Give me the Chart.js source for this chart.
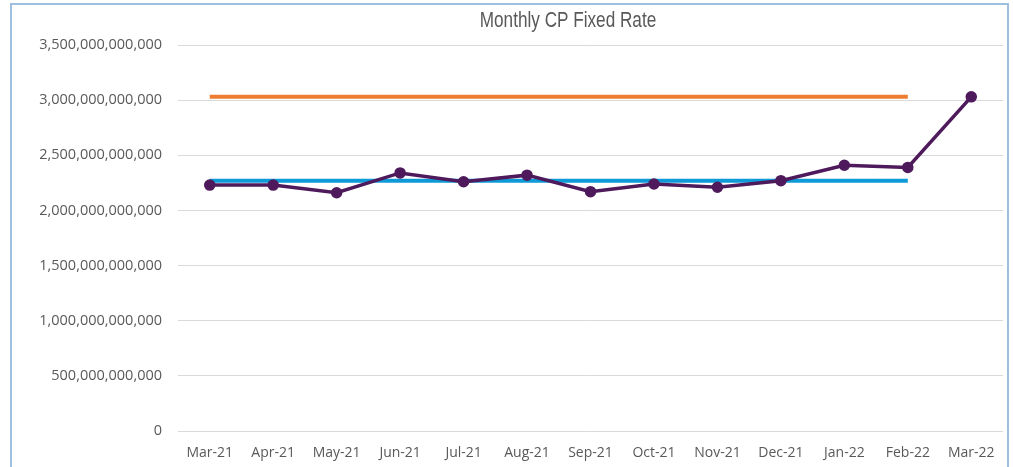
<!DOCTYPE html>
<html>
<head>
<meta charset="utf-8">
<script src="https://cdn.jsdelivr.net/npm/chart.js@4"></script>
<style>
    body { margin: 0; width: 1013px; height: 467px; overflow: hidden; background: #fff; }
    #wrap { position: absolute; left: 0; top: 0; width: 1013px; height: 467px; }
    #frame {
        position: absolute; left: 10px; top: 3px; width: 995px; height: 480px;
        border: 2px solid #9DBFE0; pointer-events: none;
    }
</style>
</head>
<body>
<div id="wrap"><canvas id="cpChart" width="1013" height="467"></canvas></div>
<div id="frame"></div>
<script>
const months = ["Mar-21", "Apr-21", "May-21", "Jun-21", "Jul-21", "Aug-21", "Sep-21",
    "Oct-21", "Nov-21", "Dec-21", "Jan-22", "Feb-22", "Mar-22"];

const monthlyTotal = [2230e9, 2230e9, 2160e9, 2340e9, 2260e9, 2320e9, 2170e9,
    2240e9, 2210e9, 2270e9, 2410e9, 2390e9, 3030e9];

const upperLine = [3030e9, 3030e9, 3030e9, 3030e9, 3030e9, 3030e9, 3030e9,
    3030e9, 3030e9, 3030e9, 3030e9, 3030e9, null];

const averageLine = [2270e9, 2270e9, 2270e9, 2270e9, 2270e9, 2270e9, 2270e9,
    2270e9, 2270e9, 2270e9, 2270e9, 2270e9, null];

const yMax = 3500e9;
const yStep = 500e9;

// title drawn off-centre and squeezed like the original narrow font
const titlePlugin = {
    id: "cpTitle",
    afterDraw(chart) {
        const ctx = chart.ctx;
        ctx.save();
        ctx.translate(568, 21);
        ctx.scale(0.78, 1);
        ctx.font = "22px 'Liberation Sans', Arial, sans-serif";
        ctx.fillStyle = "#595959";
        ctx.textAlign = "center";
        ctx.textBaseline = "middle";
        ctx.fillText("Monthly CP Fixed Rate", 0, 0);
        ctx.restore();
    },
};

new Chart(document.getElementById("cpChart"), {
    type: "line",
    data: {
        labels: months,
        datasets: [
            {
                label: "Total",
                data: monthlyTotal,
                borderColor: "#4E1A5C",
                backgroundColor: "#4E1A5C",
                borderWidth: 3.5,
                pointRadius: 4,
                pointHoverRadius: 4,
                tension: 0,
                order: 0,
            },
            {
                label: "Upper",
                data: upperLine,
                borderColor: "#ED7D31",
                borderWidth: 4,
                pointRadius: 0,
                order: 2,
            },
            {
                label: "Average",
                data: averageLine,
                borderColor: "#0E9AD7",
                borderWidth: 4,
                pointRadius: 0,
                order: 1,
            },
        ],
    },
    options: {
        responsive: false,
        animation: false,
        layout: {
            padding: { top: 45, right: 10, left: 0, bottom: 0 },
        },
        scales: {
            x: {
                offset: true,
                grid: { display: false },
                border: { display: false },
                ticks: {
                    color: "#595959",
                    font: { family: "'Open Sans'", size: 14 },
                    padding: 6,
                    maxRotation: 0,
                    autoSkip: false,
                },
                afterFit: function (scale) {
                    scale.height = 36;
                },
            },
            y: {
                min: 0,
                max: yMax,
                grid: { color: "#D9D9D9", lineWidth: 1, drawTicks: false },
                border: { display: false },
                ticks: {
                    stepSize: yStep,
                    color: "#595959",
                    font: { family: "'Open Sans'", size: 14.5 },
                    padding: 16,
                    callback: function (value) {
                        return value.toLocaleString("en-US");
                    },
                },
                afterFit: function (scale) {
                    scale.width = 178;
                },
            },
        },
        plugins: {
            legend: { display: false },
            title: { display: false },
            tooltip: { enabled: false },
        },
    },
    plugins: [titlePlugin],
});
</script>
</body>
</html>
